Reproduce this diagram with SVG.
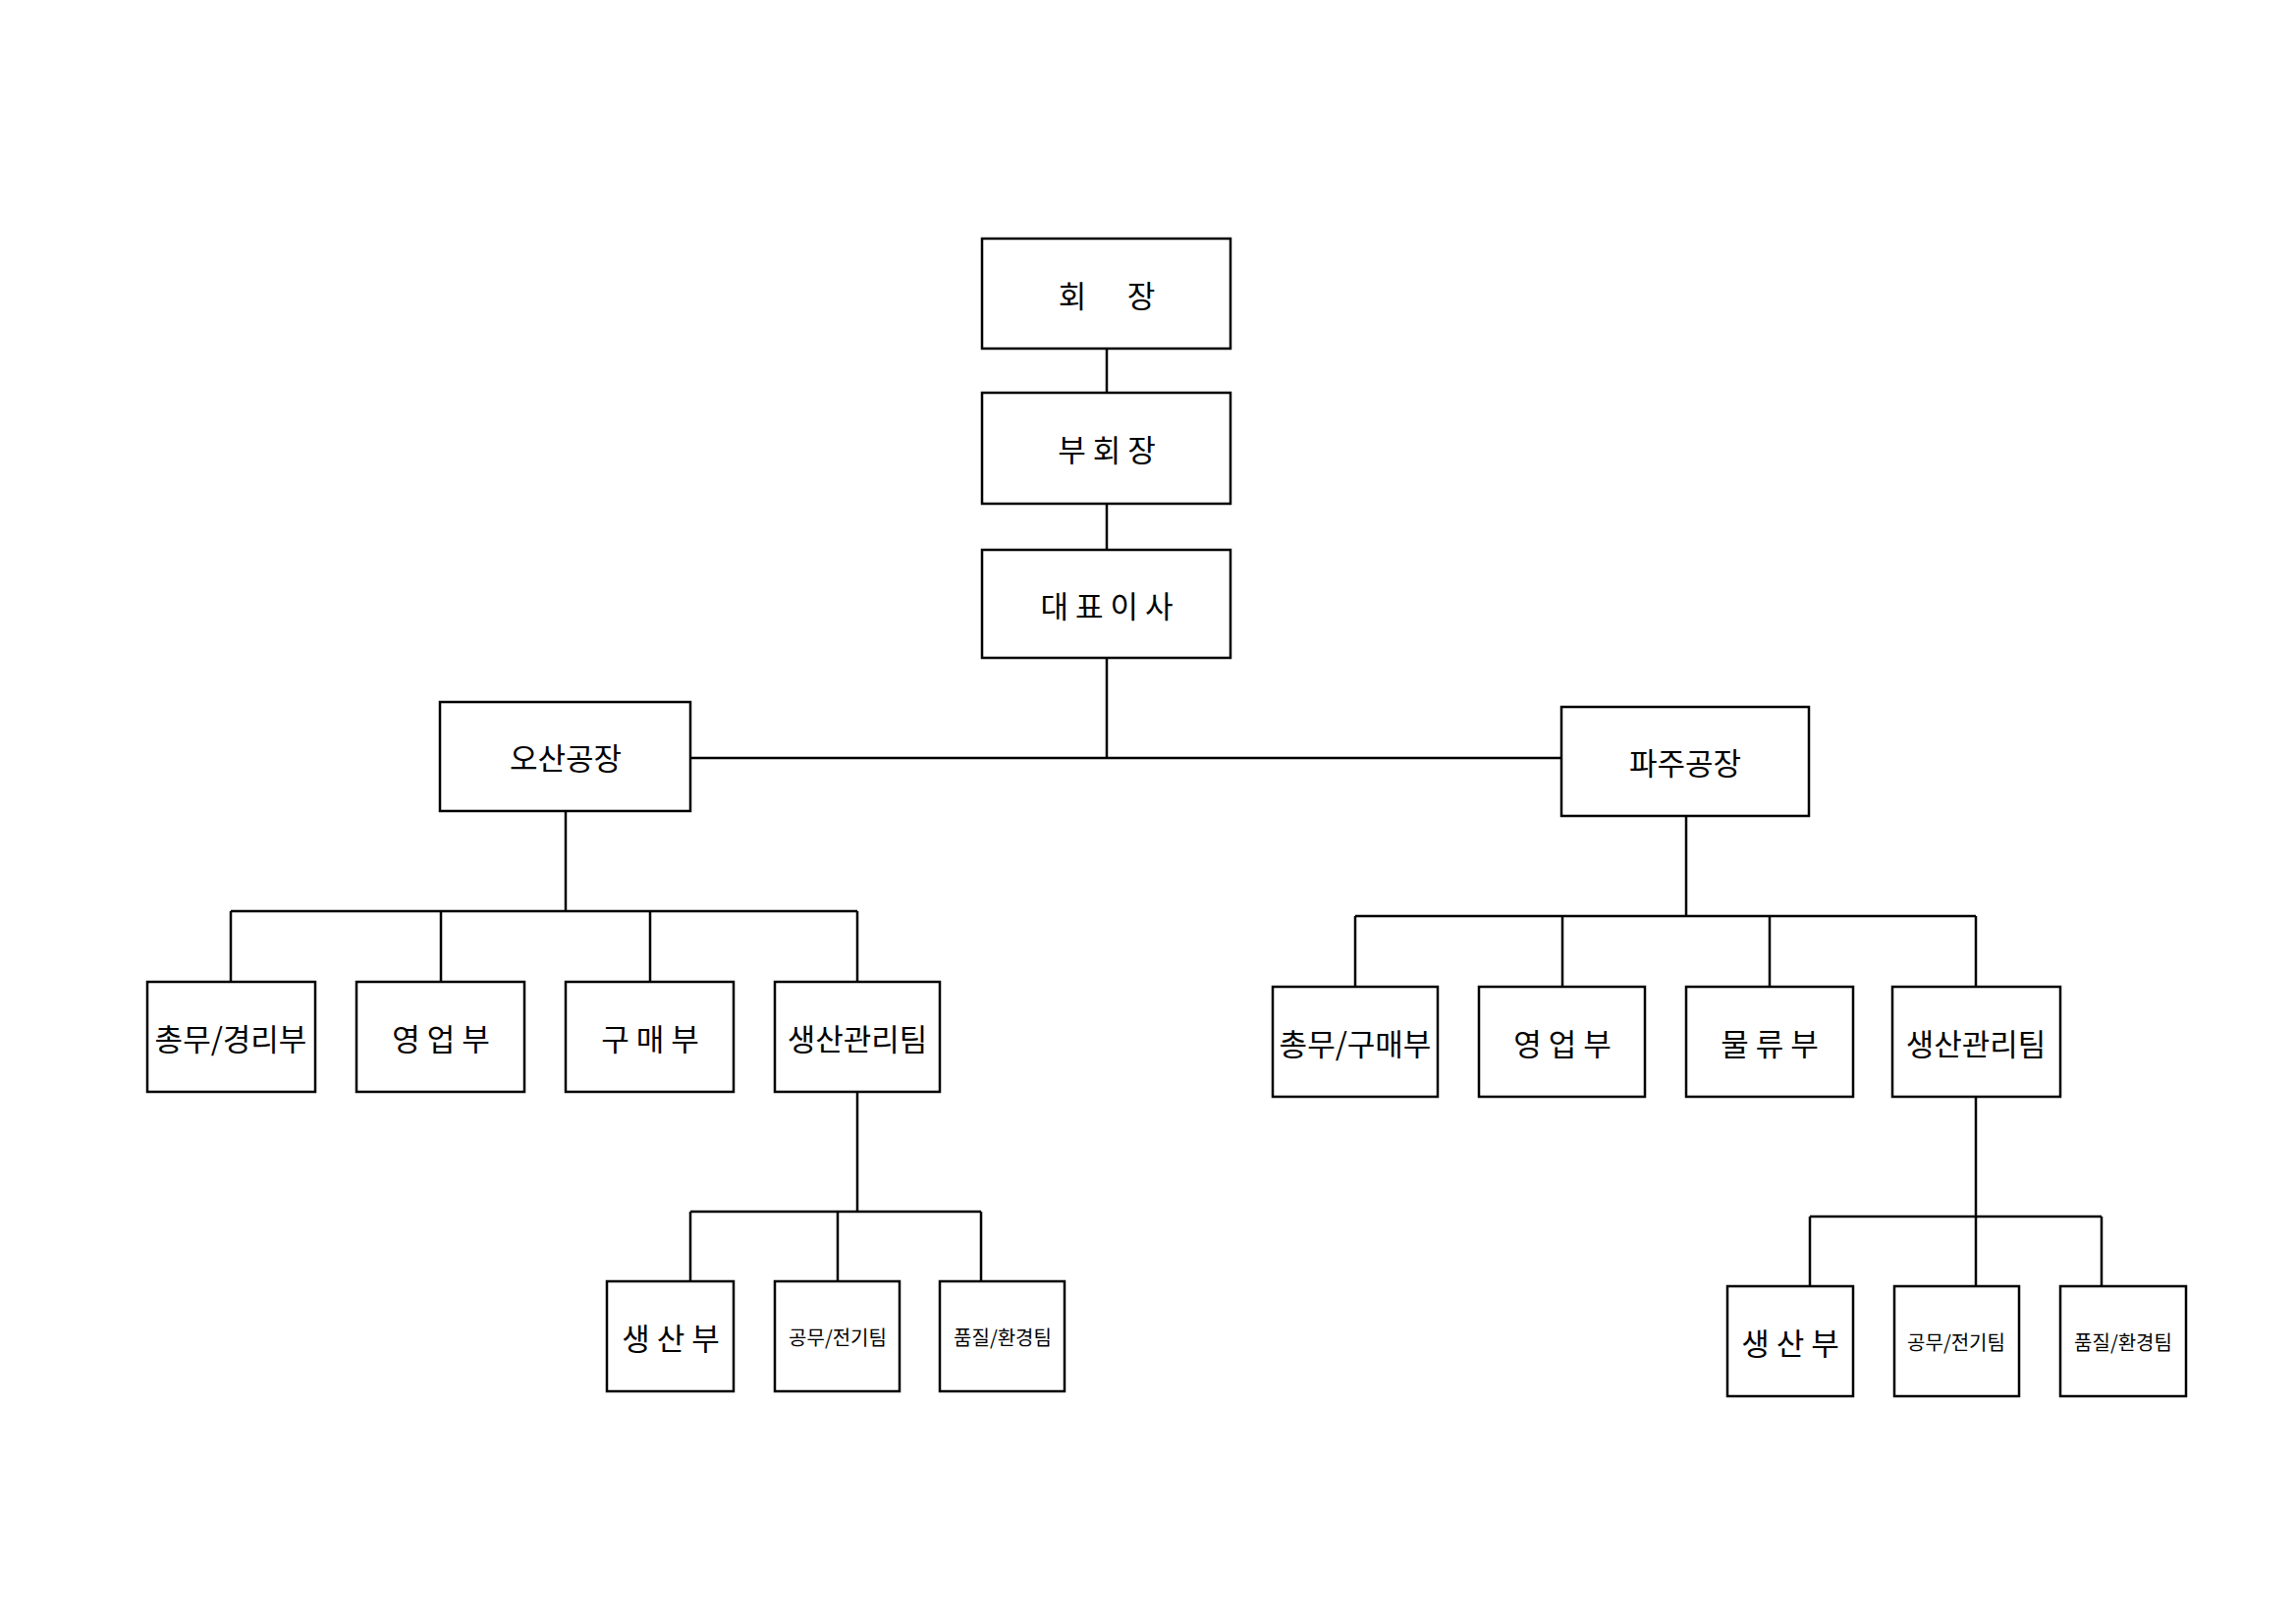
<svg xmlns="http://www.w3.org/2000/svg" width="2338" height="1653" viewBox="0 0 2338 1653">
<style>
rect{fill:#fff;stroke:#000;stroke-width:2.5}
text{font-family:"Noto Sans CJK KR","Noto Sans",sans-serif;font-size:31px;text-anchor:middle;dominant-baseline:central;fill:#000}
.s{font-size:20px}
#conn path{fill:none;stroke:#000;stroke-width:2.5}
</style>
<rect width="2338" height="1653" style="fill:#fff;stroke:none"/>
<g id="conn">
<path d="M1127 355V400M1127 513V560M1127 670V772M703 772H1590"/>
<path d="M576 826V928M235 928H873M235 928V1000M449 928V1000M662 928V1000M873 928V1000"/>
<path d="M1717 831V933M1380 933H2012M1380 933V1005M1591 933V1005M1802 933V1005M2012 933V1005"/>
<path d="M873 1112V1234M703 1234H999M703 1234V1305M853 1234V1305M999 1234V1305"/>
<path d="M2012 1117V1239M1843 1239H2140M1843 1239V1310M2012 1239V1310M2140 1239V1310"/>
</g>
<g id="n1"><rect x="1000" y="243" width="253" height="112"/><text x="1127" y="299" xml:space="preserve">회      장</text></g>
<g id="n2"><rect x="1000" y="400" width="253" height="113"/><text x="1127" y="456">부 회 장</text></g>
<g id="n3"><rect x="1000" y="560" width="253" height="110"/><text x="1127" y="615">대 표 이 사</text></g>
<g id="n4"><rect x="448" y="715" width="255" height="111"/><text x="576" y="770">오산공장</text></g>
<g id="n5"><rect x="1590" y="720" width="252" height="111"/><text x="1716" y="775">파주공장</text></g>
<g id="n6"><rect x="150" y="1000" width="171" height="112"/><text x="235" y="1056">총무/경리부</text></g>
<g id="n7"><rect x="363" y="1000" width="171" height="112"/><text x="449" y="1056">영 업 부</text></g>
<g id="n8"><rect x="576" y="1000" width="171" height="112"/><text x="662" y="1056">구 매 부</text></g>
<g id="n9"><rect x="789" y="1000" width="168" height="112"/><text x="873" y="1056">생산관리팀</text></g>
<g id="n10"><rect x="1296" y="1005" width="168" height="112"/><text x="1380" y="1061">총무/구매부</text></g>
<g id="n11"><rect x="1506" y="1005" width="169" height="112"/><text x="1591" y="1061">영 업 부</text></g>
<g id="n12"><rect x="1717" y="1005" width="170" height="112"/><text x="1802" y="1061">물 류 부</text></g>
<g id="n13"><rect x="1927" y="1005" width="171" height="112"/><text x="2012" y="1061">생산관리팀</text></g>
<g id="n14"><rect x="618" y="1305" width="129" height="112"/><text x="683" y="1361">생 산 부</text></g>
<g id="n15"><rect x="789" y="1305" width="127" height="112"/><text class="s" x="853" y="1361">공무/전기팀</text></g>
<g id="n16"><rect x="957" y="1305" width="127" height="112"/><text class="s" x="1021" y="1361">품질/환경팀</text></g>
<g id="n17"><rect x="1759" y="1310" width="128" height="112"/><text x="1823" y="1366">생 산 부</text></g>
<g id="n18"><rect x="1929" y="1310" width="127" height="112"/><text class="s" x="1992" y="1366">공무/전기팀</text></g>
<g id="n19"><rect x="2098" y="1310" width="128" height="112"/><text class="s" x="2162" y="1366">품질/환경팀</text></g>
</svg>
